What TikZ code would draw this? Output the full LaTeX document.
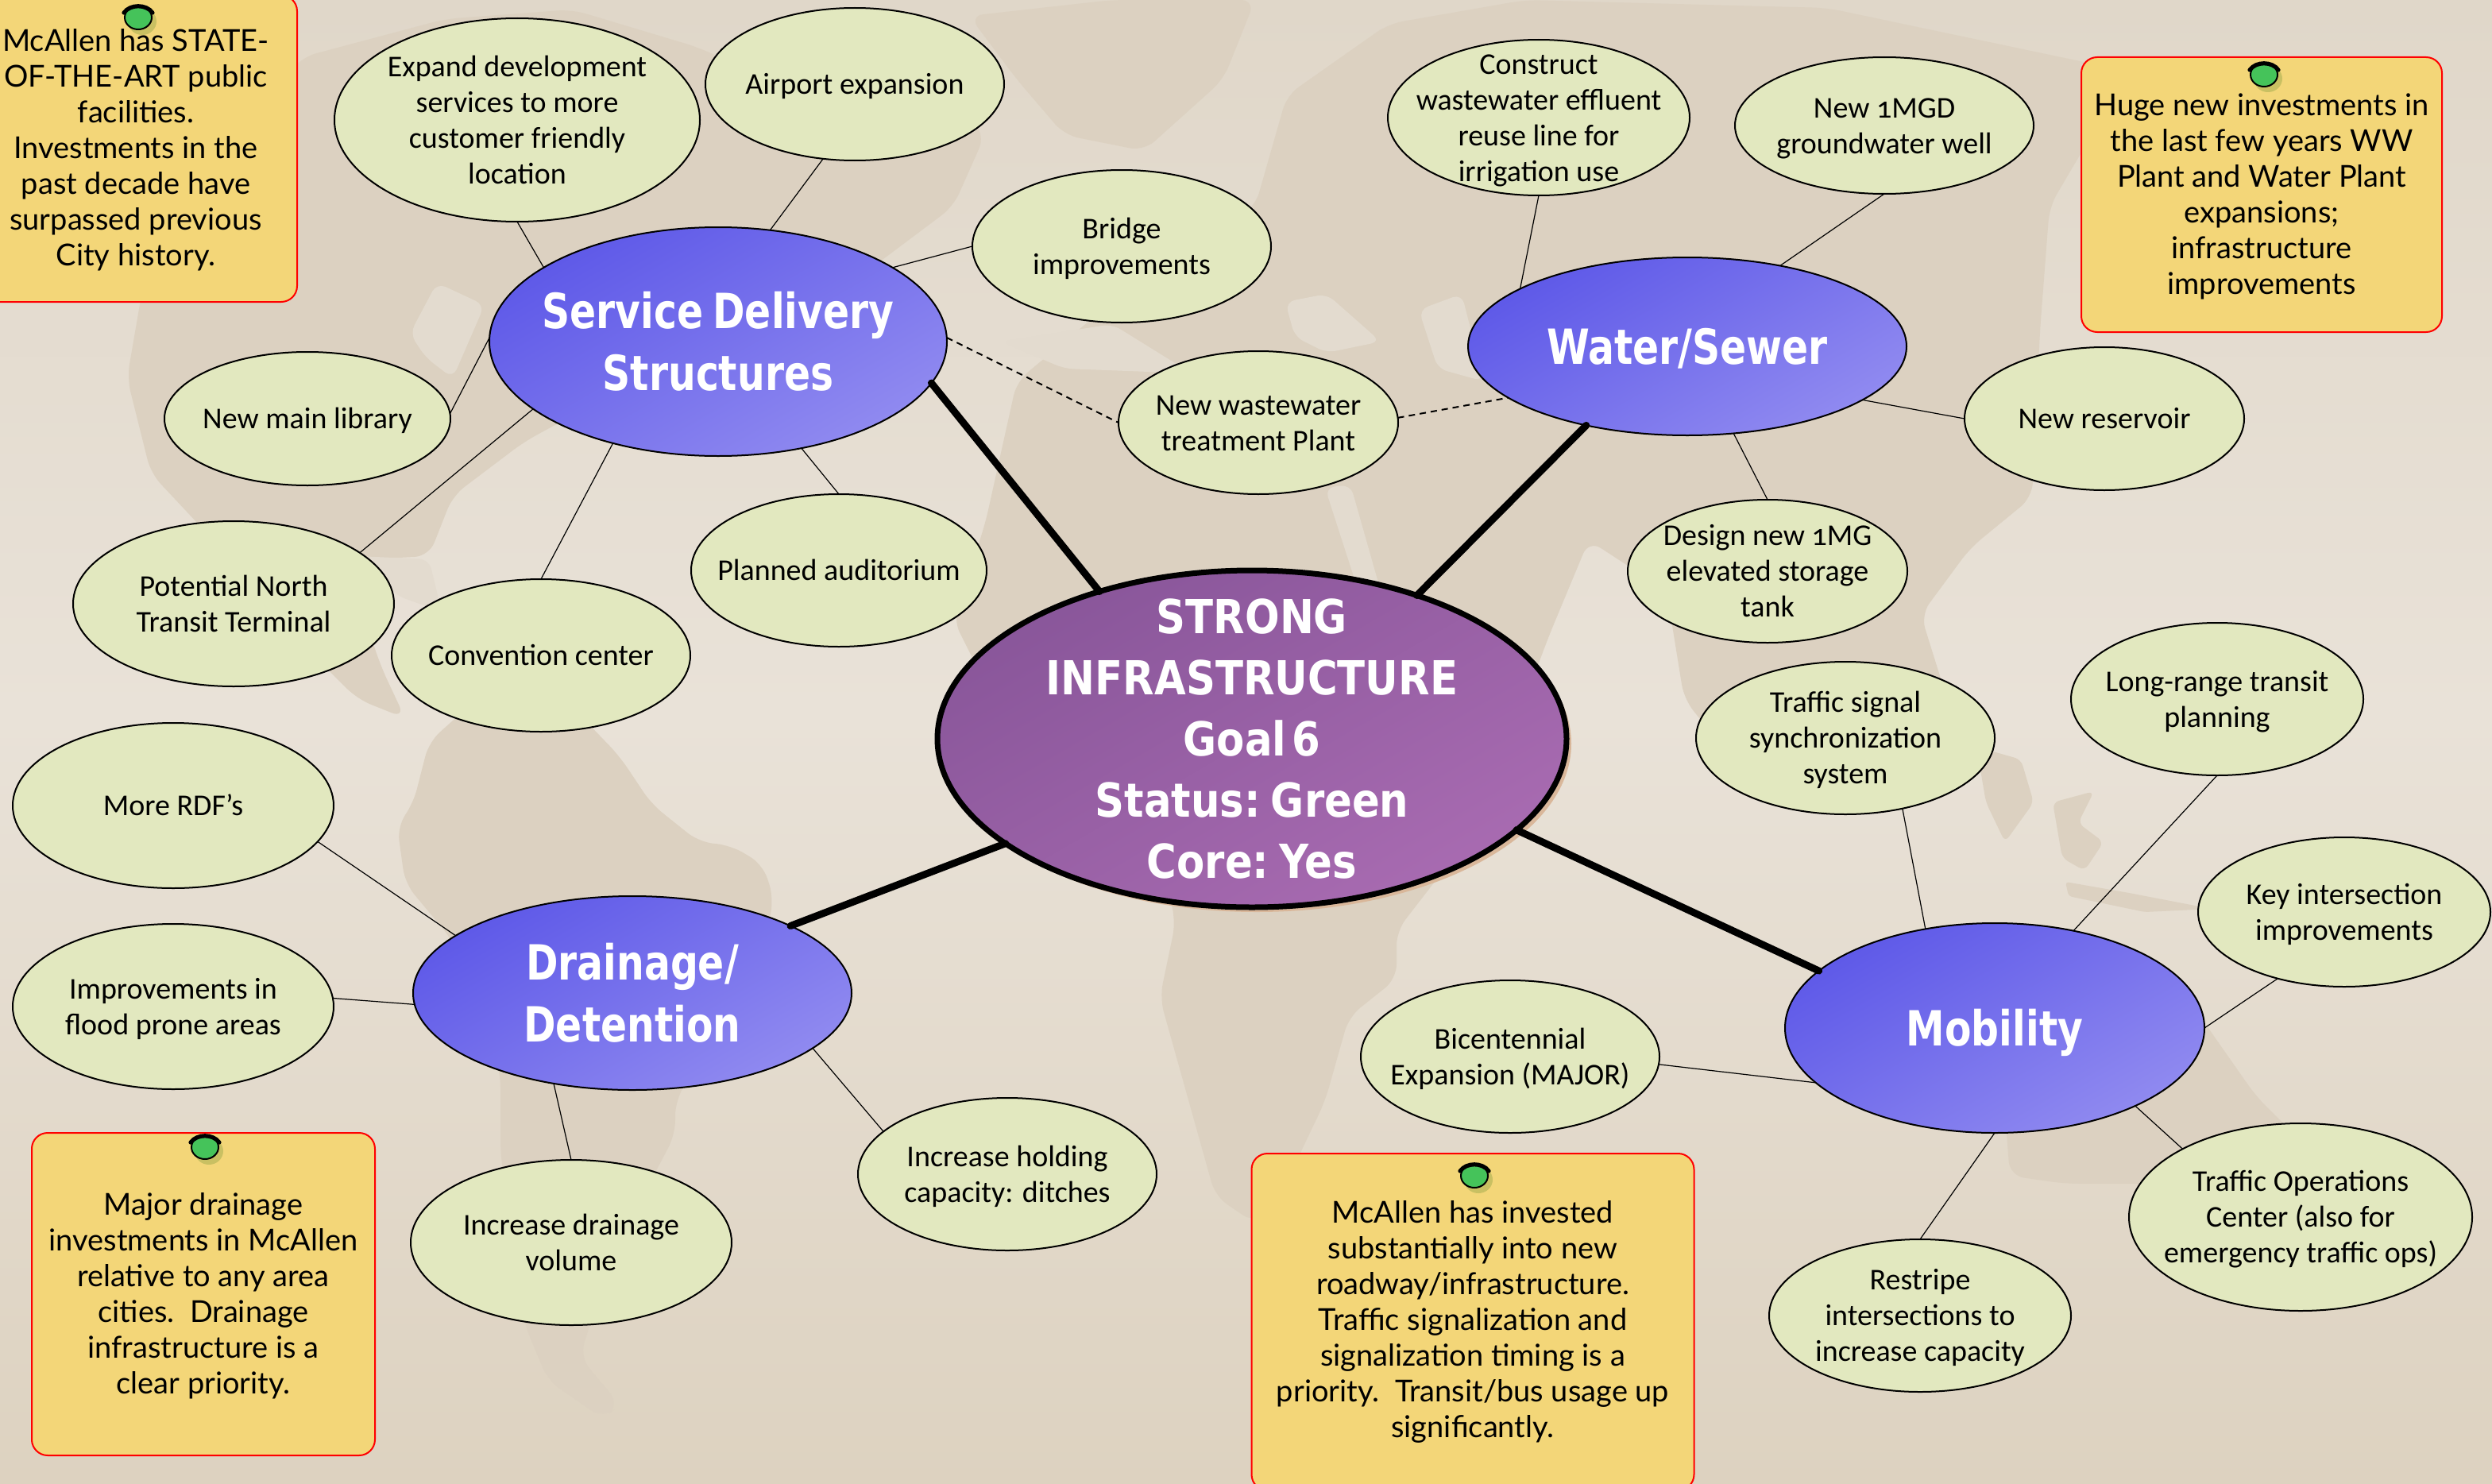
\documentclass[tikz,border=0pt]{standalone}
\usepackage{fontspec}
\usetikzlibrary{shapes.geometric}
\setmainfont{Carlito}
\newfontfamily\leaffont[Numbers=OldStyle]{Carlito}
\newfontfamily\bigfont[FakeStretch=0.8,WordSpace=0.7]{DejaVu Sans}
\newfontfamily\corefont[FakeStretch=0.87,WordSpace=0.4]{DejaVu Sans}
\newfontfamily\notefont{Lato}
\definecolor{bgtop}{HTML}{E0D7C9}
\definecolor{bgmid}{HTML}{E9E2D8}
\definecolor{bgbot}{HTML}{DDD2C0}
\definecolor{land}{HTML}{DCD1C1}
\definecolor{sea}{HTML}{E3DBCF}
\definecolor{leaffill}{HTML}{E2E8BF}
\definecolor{notefill}{HTML}{F3D678}
\definecolor{blueA}{HTML}{5E59E8}
\definecolor{blueB}{HTML}{655FE9}
\definecolor{blueC}{HTML}{908AF0}
\definecolor{purpA}{HTML}{89569A}
\definecolor{purpB}{HTML}{925AA0}
\definecolor{purpC}{HTML}{A86BB1}
\definecolor{pinshadow}{HTML}{C9C062}
\definecolor{pingreen}{HTML}{45C35A}
\definecolor{shadowc}{HTML}{D9B79A}
\newcommand\mt[1]{\makebox[0pt]{\smash{\raisebox{-0.32em}{\begin{tabular}{@{}c@{}}#1\end{tabular}}}}}
\newcommand\Leaf[5]{\node[leaf,minimum width=#4*2pt,minimum height=#5*2pt] (#1) at (#2) {\mt{#3}};}
\tikzset{
  base/.style={ellipse,inner sep=0pt,outer sep=0pt},
  leaf/.style={base,draw=black,line width=1pt,fill=leaffill,text=black,font=\leaffont\fontsize{19}{22.5}\selectfont},
  hub/.style={base,draw=black,line width=1pt,top color=blueA,middle color=blueB,bottom color=blueC,shading angle=30,text=white,font=\bigfont\bfseries\fontsize{30.5}{39}\selectfont},
  core/.style={base,draw=black,line width=3.5pt,top color=purpA,middle color=purpB,bottom color=purpC,shading angle=30,text=white,font=\corefont\bfseries\fontsize{29.5}{38.5}\selectfont},
  note/.style={rectangle,rounded corners=10pt,draw=red,line width=1pt,fill=notefill,inner sep=0pt,outer sep=0pt,text=black,font=\notefont\fontsize{19}{22.5}\selectfont},
  thin/.style={draw=black,line width=0.6pt},
  dashlink/.style={draw=black,line width=1pt,dash pattern=on 4pt off 3pt},
  spoke/.style={draw=black,line width=4.5pt,line cap=round},
  landmass/.style={fill=land,rounded corners=9pt},
  seapatch/.style={fill=sea,rounded corners=6pt},
  notepin/.pic={
    \fill[pinshadow] (2.5,2.5) ellipse (9pt and 8.5pt);
    \draw[black,line width=1pt,fill=pingreen] (0,0) ellipse (8.5pt and 7.5pt);
    \draw[black,line width=2.6pt,line cap=round] (-9,-3) .. controls (-5,-8.5) and (5,-8.5) .. (9,-3);
  }
}
\begin{document}
\begin{tikzpicture}[x=1pt,y=-1pt]
\useasboundingbox (0,0) rectangle (1568.5,934);
% background
\fill[top color=bgtop,bottom color=bgmid] (0,0) rectangle (1568.5,450);
\fill[top color=bgmid,bottom color=bgbot] (0,449) rectangle (1568.5,934);
% map: North America
\path[landmass] (80,238)--(95,298)--(125,330)--(160,370)--(195,410)--(225,440)--(255,452)--(240,420)--(228,385)--(232,352)--(270,350)--(285,312)--(330,278)--(400,240)--(480,205)--(540,175)--(600,130)--(620,85)--(590,50)--(500,58)--(440,30)--(360,6)--(280,12)--(190,36)--(130,110)--(90,180)--cycle;
% Greenland
\path[landmass] (610,10)--(700,0)--(790,0)--(770,50)--(720,95)--(670,85)--(640,50)--cycle;
% South America
\path[landmass] (270,467)--(260,506)--(250,520)--(255,556)--(285,592)--(315,675)--(315,726)--(330,833)--(345,869)--(380,893)--(390,884)--(365,854)--(385,790)--(425,714)--(425,693)--(480,600)--(487,565)--(480,544)--(460,532)--(440,530)--(410,506)--(390,476)--(365,450)--(300,440)--cycle;
% Africa and Eurasia
\path[landmass] (620,330)--(600,390)--(640,470)--(730,540)--(740,580)--(730,628)--(765,753)--(790,770)--(814,735)--(834,693)--(849,640)--(879,616)--(879,586)--(930,520)--(975,400)--(1000,340)--(1049,372)--(1060,440)--(1100,490)--(1150,470)--(1234,467)--(1209,387)--(1240,345)--(1279,313)--(1284,208)--(1290,130)--(1340,45)--(1150,5)--(960,0)--(874,15)--(810,60)--(790,130)--(700,190)--(640,240)--cycle;
% Australia and islands
\path[landmass] (1262,700)--(1310,672)--(1350,660)--(1385,640)--(1420,690)--(1455,725)--(1440,750)--(1390,765)--(1360,745)--(1300,745)--(1265,740)--cycle;
\path[landmass,rounded corners=4pt] (1244,470)--(1272,478)--(1280,505)--(1262,530)--(1250,505)--cycle;
\path[landmass,rounded corners=4pt] (1292,505)--(1318,498)--(1308,518)--(1324,530)--(1312,548)--(1298,540)--cycle;
\path[landmass,rounded corners=2pt] (1300,555)--(1340,562)--(1392,572)--(1350,574)--(1302,564)--cycle;
% inland seas
\path[seapatch] (834,307)--(850,305)--(869,372)--(855,372)--cycle;
\path[seapatch] (809,190)--(835,185)--(869,215)--(835,222)--(815,212)--cycle;
\path[seapatch] (893,195)--(920,185)--(934,240)--(905,232)--cycle;
\path[seapatch] (258,210)--(275,178)--(305,192)--(285,238)--(268,225)--cycle;
\path[seapatch] (630,215)--(700,204)--(750,235)--(670,232)--cycle;
\path[seapatch] (225,350)--(270,352)--(278,385)--(250,375)--cycle;
% core shadow
\fill[shadowc] (791,468) ellipse (198pt and 106pt);
% central and hub nodes
\node[core,minimum width=396pt,minimum height=212pt] (core) at (788,465) {\mt{STRONG\\INFRASTRUCTURE\\Goal 6\\Status: Green\\Core: Yes}};
\node[hub,minimum width=288pt,minimum height=144pt] (sd) at (452,215) {\mt{Service Delivery\\Structures}};
\node[hub,minimum width=276pt,minimum height=112pt] (ws) at (1062,218) {\mt{Water/Sewer}};
\node[hub,minimum width=276pt,minimum height=122pt] (dr) at (398,625) {\mt{Drainage/\\Detention}};
\node[hub,minimum width=264pt,minimum height=132pt] (mo) at (1255.5,647) {\mt{Mobility}};
% leaves
\Leaf{expand}{325.5,75.5}{Expand development\\services to more\\customer friendly\\location}{115}{64}
\Leaf{airport}{538,53}{Airport expansion}{94}{48}
\Leaf{bridge}{706,155}{Bridge\\improvements}{94}{48}
\Leaf{library}{193.5,263.5}{New main library}{90}{42}
\Leaf{north}{147,380}{Potential North\\Transit Terminal}{101}{52}
\Leaf{conv}{340.5,412.5}{Convention center}{94}{48}
\Leaf{aud}{528,359}{Planned auditorium}{93}{48}
\Leaf{wwtp}{792,266}{New wastewater\\treatment Plant}{88}{45}
\Leaf{reuse}{968.5,74}{Construct\\wastewater effluent\\reuse line for\\irrigation use}{95}{49}
\Leaf{well}{1186,79}{New 1MGD\\groundwater well}{94}{43}
\Leaf{reservoir}{1324.5,263.5}{New reservoir}{88}{45}
\Leaf{tank}{1112.5,359.5}{Design new 1MG\\elevated storage\\tank}{88}{45}
\Leaf{signal}{1161.5,464.5}{Traffic signal\\synchronization\\system}{94}{48}
\Leaf{transit}{1395.5,440}{Long-range transit\\planning}{92}{48}
\Leaf{keyint}{1475.5,574}{Key intersection\\improvements}{92}{47}
\Leaf{ops}{1448,766}{Traffic Operations\\Center (also for\\emergency traffic ops)}{108}{59}
\Leaf{restripe}{1208.5,828}{Restripe\\intersections to\\increase capacity}{95}{48}
\Leaf{bicent}{950.5,665}{Bicentennial\\Expansion (MAJOR)}{94}{48}
\Leaf{ditch}{634,739}{Increase holding\\capacity: ditches}{94}{48}
\Leaf{volume}{359.5,782}{Increase drainage\\volume}{101}{52}
\Leaf{flood}{109,633.5}{Improvements in\\flood prone areas}{101}{52}
\Leaf{rdf}{109,507}{More RDF’s}{101}{52}
% notes
\node[note,minimum width=203pt,minimum height=193pt] (n1) at (85.5,93.5) {\mt{McAllen has STATE-\\OF-THE-ART public\\facilities.\\Investments in the\\past decade have\\surpassed previous\\City history.}};
\node[note,minimum width=227pt,minimum height=173pt] (n2) at (1423.5,122.5) {\mt{Huge new investments in\\the last few years WW\\Plant and Water Plant\\expansions;\\infrastructure\\improvements}};
\node[note,minimum width=216pt,minimum height=203pt] (n3) at (128,814.5) {\mt{Major drainage\\investments in McAllen\\relative to any area\\cities.\ \ Drainage\\infrastructure is a\\clear priority.}};
\node[note,minimum width=278.5pt,minimum height=212pt] (n4) at (927,832) {\raisebox{2.5pt}{\mt{McAllen has invested\\substantially into new\\roadway/infrastructure.\\Traffic signalization and\\signalization timing is a\\priority.\ \ Transit/bus usage up\\significantly.}}};
\path (87,11) pic {notepin};
\path (1425,47) pic {notepin};
\path (129,722) pic {notepin};
\path (928,740) pic {notepin};
% thin connectors
\draw[thin] (expand.-90) -- (sd.157);
\draw[thin] (airport.-113) -- (sd.65);
\draw[thin] (bridge.180) -- (sd.23);
\draw[thin] (library.2) -- (sd.179);
\draw[thin] (north.22) -- (sd.200);
\draw[thin] (conv.90) -- (sd.-136);
\draw[thin] (aud.90) -- (sd.-52);
\draw[dashlink] (sd.1) -- (wwtp.180);
\draw[dashlink] (wwtp.2) -- (ws.-164);
\draw[thin] (reuse.-90) -- (ws.161);
\draw[thin] (well.-90) -- (ws.41);
\draw[thin] (reservoir.180) -- (ws.-17.5);
\draw[thin] (tank.90) -- (ws.-62);
\draw[thin] (signal.-51) -- (mo.125);
\draw[thin] (transit.-90) -- (mo.51);
\draw[thin] (keyint.-135.6) -- (mo.0);
\draw[thin] (ops.150) -- (mo.-29);
\draw[thin] (restripe.90) -- (mo.-90);
\draw[thin] (bicent.-3.6) -- (mo.-163);
\draw[thin] (ditch.161) -- (dr.-17);
\draw[thin] (volume.90) -- (dr.-131);
\draw[thin] (flood.3.4) -- (dr.183);
\draw[thin] (rdf.-14.6) -- (dr.162);
% thick spokes
\draw[spoke] (core.136) -- (sd.-11);
\draw[spoke] (core.41) -- (ws.-142);
\draw[spoke] (core.-157) -- (dr.23);
\draw[spoke] (core.-19) -- (mo.162);
\end{tikzpicture}
\end{document}
